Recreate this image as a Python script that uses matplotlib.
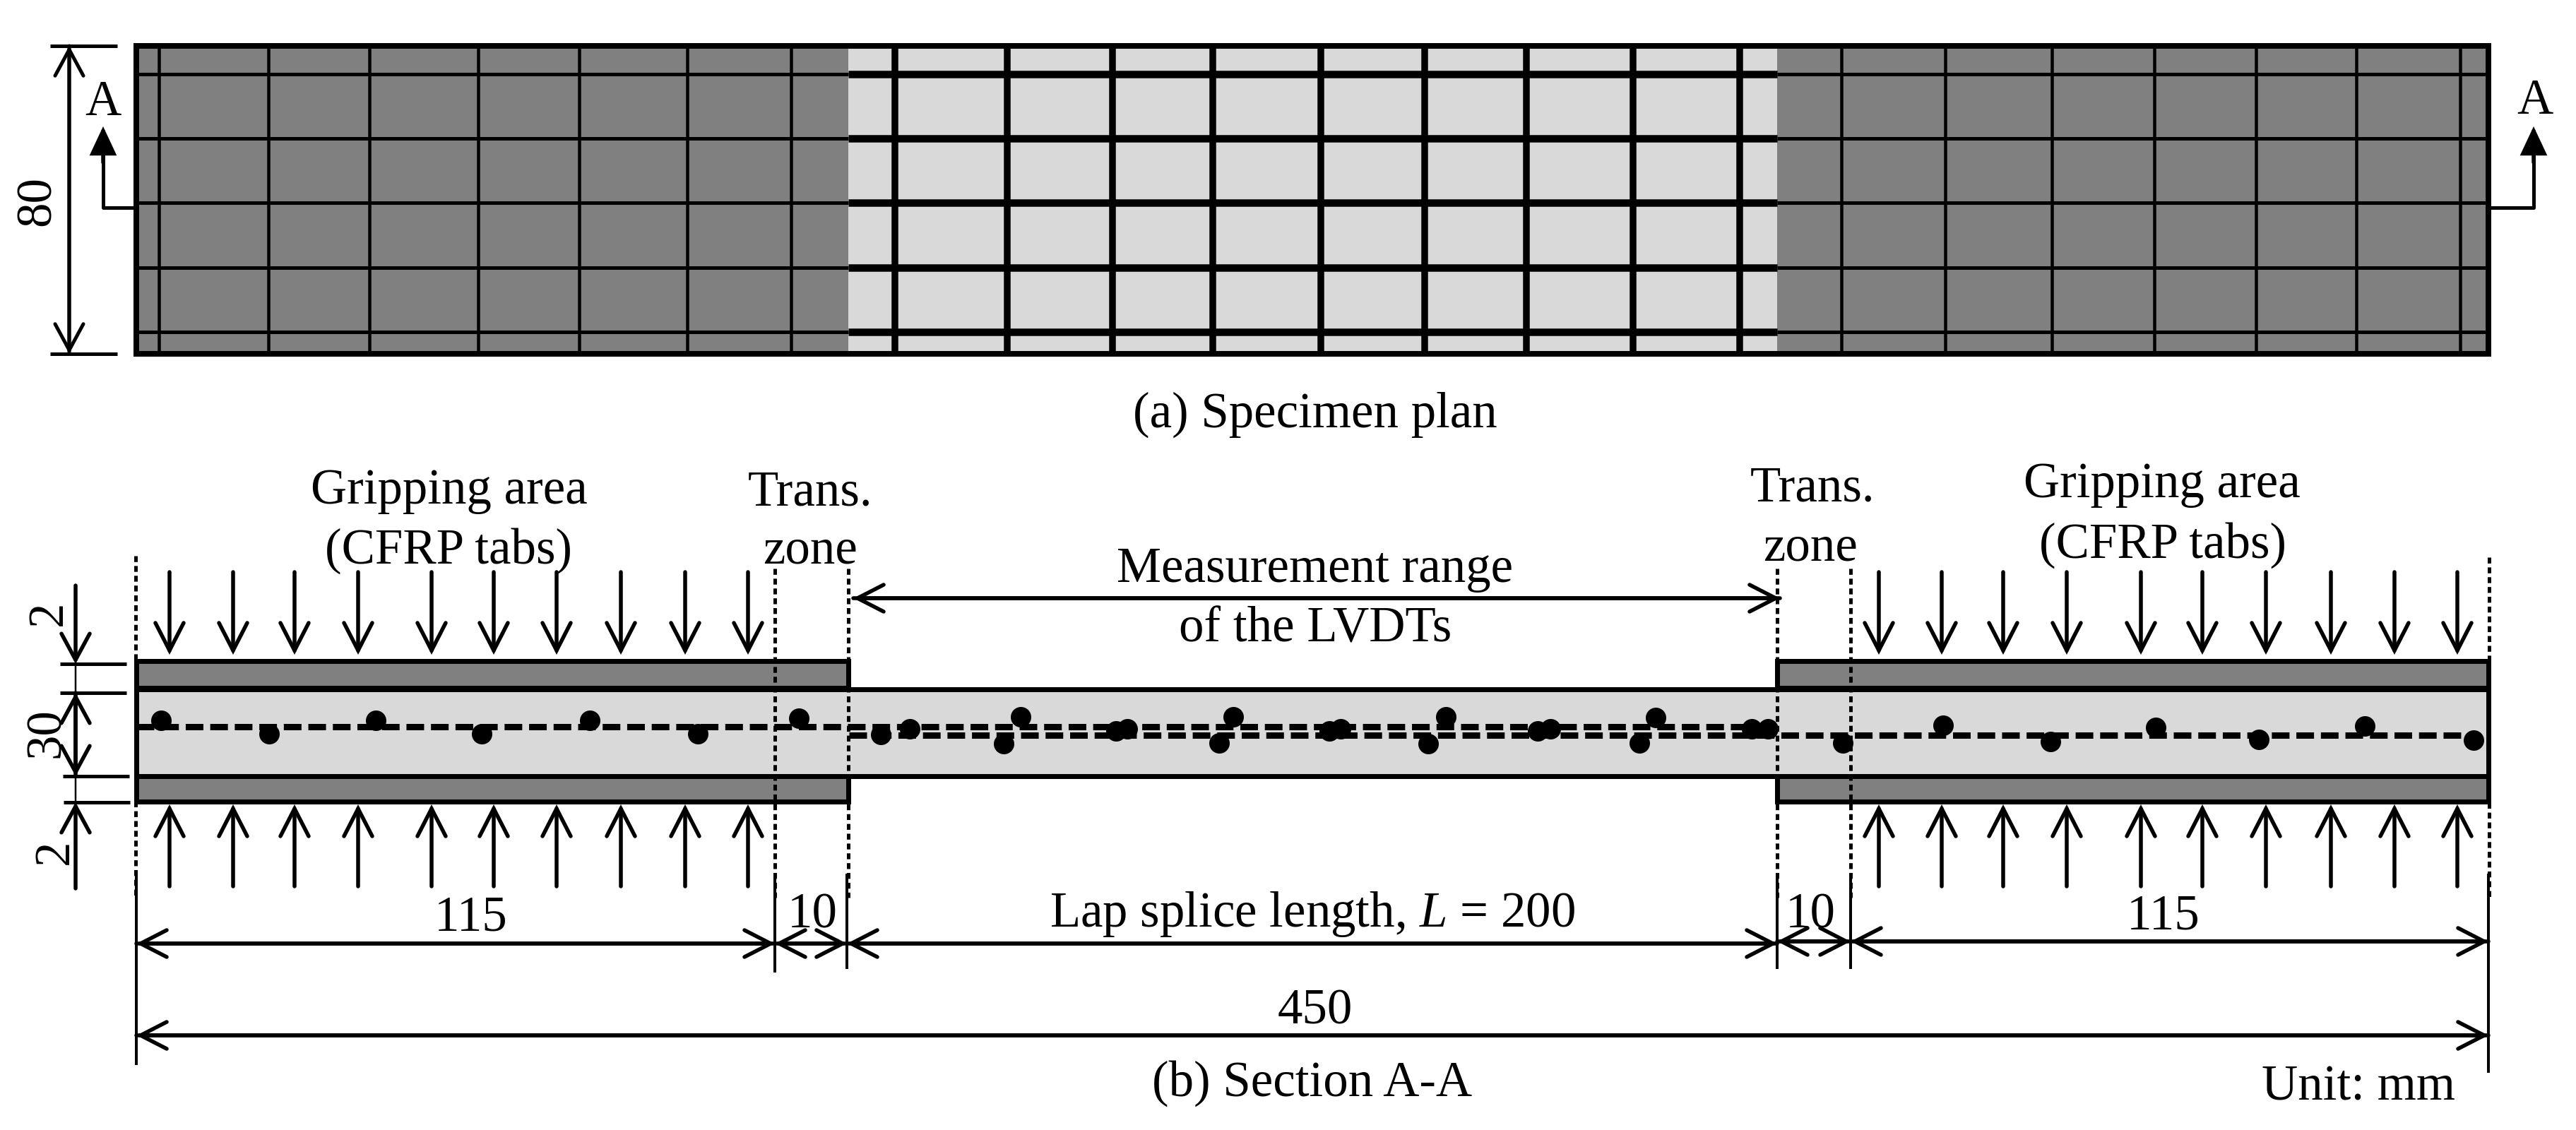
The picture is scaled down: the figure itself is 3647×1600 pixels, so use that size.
"""
Specimen plan and section A-A drawn in pixel coordinates of the 3648x1600 image
"""
import matplotlib
matplotlib.use("Agg")
import matplotlib.pyplot as plt

plt.rcParams['font.family'] = ['Liberation Serif', 'DejaVu Serif']
plt.rcParams['mathtext.fontset'] = 'custom'
plt.rcParams['mathtext.rm'] = 'Liberation Serif'
plt.rcParams['mathtext.it'] = 'Liberation Serif:italic'
plt.rcParams['lines.scale_dashes'] = False

GRIS = '#808080'
CLARO = '#D9D9D9'
PX = 0.72  # px -> pt at dpi 100

# plan
plan_x = [193, 1201, 2516, 3523]
plan_y = [65, 501]
malla_y = [105, 196, 287, 379, 470]
malla_izq = [225, 380, 523, 677, 820, 973, 1120]
malla_centro = [1267, 1426, 1575, 1717, 1870, 2017, 2161, 2312, 2463]
malla_der = [2607, 2754, 2905, 3050, 3194, 3336, 3483]
corte_y = 294
corte_x = [146, 3587]
corte_punta = 179

# section
tab_sup = [936, 974]
nucleo = [976, 1099]
tab_inf = [1099, 1135]
cargas_izq = [240, 330, 417, 507, 611, 699, 788, 879, 970, 1059]
cargas_der = [2660, 2749, 2836, 2926, 3031, 3118, 3208, 3300, 3390, 3479]
lineas_punteadas = [192, 1097, 1201, 2516, 2620, 3524]
punteadas_sup = [787, 805, 805, 805, 805, 789]
cotas_x = [193, 1097, 1199, 2516, 2620, 3523]
cotas_sup = [1234, 1240, 1237, 1237, 1237, 1237]
cotas_inf = [1508, 1377, 1372, 1372, 1372, 1519]

puntos_x = [228, 381, 532, 682, 835, 988, 1131, 1247, 1288, 1421, 1445, 1580, 1596,
            1726, 1746, 1882, 1898, 2022, 2047, 2177, 2195, 2321, 2344, 2480, 2503,
            2609, 2751, 2903, 3052, 3198, 3348, 3502]
puntos_y = [1020, 1039, 1020, 1039, 1020, 1039, 1017, 1040, 1032, 1053, 1015, 1035, 1032,
            1052, 1015, 1035, 1032, 1053, 1015, 1035, 1032, 1052, 1016, 1032, 1032,
            1052, 1027, 1050, 1030, 1047, 1028, 1048]

textos = [
    ("A", 146, 163), ("A", 3589, 161),
    ("(a) Specimen plan", 1862, 605),
    ("Gripping area", 636, 713), ("(CFRP tabs)", 635, 798),
    ("Trans.", 1147, 715), ("zone", 1147, 798),
    ("Measurement range", 1862, 824), ("of the LVDTs", 1862, 909),
    ("Trans.", 2566, 710), ("zone", 2563, 794),
    ("Gripping area", 3061, 704), ("(CFRP tabs)", 3062, 790),
    ("115", 667, 1318), ("10", 1150, 1314),
    ("Lap splice length, $L$ = 200", 1858, 1312),
    ("10", 2563, 1314), ("115", 3063, 1315),
    ("450", 1862, 1449), ("(b) Section A-A", 1858, 1552),
    ("Unit: mm", 3339, 1558),
]
textos_rot = [("80", 53, 285), ("2", 69, 868), ("30", 66, 1038), ("2", 78, 1206)]

fig = plt.figure(figsize=(36.48, 16), dpi=100)
ax = fig.add_axes([0, 0, 1, 1])
ax.set_xlim(0, 3648)
ax.set_ylim(1600, 0)
ax.axis('off')


def linea(xs, ys, ancho, **kw):
    kw.setdefault('solid_capstyle', 'butt')
    kw.setdefault('color', 'k')
    ax.plot(xs, ys, lw=ancho * PX, **kw)


def relleno(x0, x1, y0, y1, color, borde=0):
    ax.fill([x0, x1, x1, x0], [y0, y0, y1, y1], facecolor=color,
            edgecolor='k' if borde else 'none', lw=borde * PX, joinstyle='miter')


def flecha(x0, y0, x1, y1, largo=37, medio=20, ancho=5.5, estilo='->'):
    ax.annotate('', xy=(x1, y1), xytext=(x0, y0),
                arrowprops=dict(arrowstyle=f'{estilo},head_length={largo * PX},head_width={medio * PX}',
                                lw=ancho * PX, color='k', shrinkA=0, shrinkB=0,
                                mutation_scale=1, joinstyle='miter'))


# ---- (a) plan ----
relleno(plan_x[0], plan_x[1], plan_y[0], plan_y[1], GRIS)
relleno(plan_x[1], plan_x[2], plan_y[0], plan_y[1], CLARO)
relleno(plan_x[2], plan_x[3], plan_y[0], plan_y[1], GRIS)

for y in malla_y:
    linea([plan_x[0], plan_x[1]], [y, y], 5)
    linea([plan_x[1], plan_x[2]], [y, y], 10.5)
    linea([plan_x[2], plan_x[3]], [y, y], 5)
for x in malla_izq + malla_der:
    linea([x, x], plan_y, 4.5)
for x in malla_centro:
    linea([x, x], plan_y, 9.5)
relleno(plan_x[0], plan_x[3], plan_y[0], plan_y[1], 'none', borde=8)

# dimension 80 and section marks
linea([71, 166], [plan_y[0], plan_y[0]], 5)
linea([71, 166], [plan_y[1], plan_y[1]], 5)
flecha(98, plan_y[1], 98, plan_y[0], ancho=5)
flecha(98, plan_y[0], 98, plan_y[1], ancho=5)
for x, borde in zip(corte_x, [plan_x[0], plan_x[3]]):
    linea([borde, x, x], [corte_y, corte_y, 210], 5)
    flecha(x, 230, x, corte_punta, largo=32, medio=15, estilo='-|>')

# ---- (b) section ----
relleno(plan_x[0], plan_x[3], nucleo[0], nucleo[1], CLARO)
for x0, x1 in [(plan_x[0], plan_x[1]), (plan_x[2], plan_x[3])]:
    relleno(x0, x1, tab_sup[0], tab_sup[1], GRIS, borde=7)
    relleno(x0, x1, tab_inf[0], tab_inf[1], GRIS, borde=7)
relleno(plan_x[0], plan_x[3], nucleo[0], nucleo[1], 'none', borde=7)

# adhesive lines and studs
linea([193, 2516], [1029, 1029], 9, linestyle=(0, (18, 7)), dash_capstyle='butt')
linea([1202, 3510], [1041, 1041], 9, linestyle=(0, (18, 7)), dash_capstyle='butt')
ax.plot(puntos_x, puntos_y, 'o', color='k', ms=29 * PX, mew=0, zorder=3)

# dotted and solid extension lines
for x, y0 in zip(lineas_punteadas, punteadas_sup):
    linea([x, x], [y0, 1271], 5, linestyle=(0, (6, 4)), dash_capstyle='butt', zorder=4)
for x, y0, y1 in zip(cotas_x, cotas_sup, cotas_inf):
    linea([x, x], [y0, y1], 4)

# clamping loads
for x in cargas_izq + cargas_der:
    flecha(x, 810, x, 927, largo=39, medio=20)
    flecha(x, 1255, x, 1139, largo=39, medio=20)

# dimensions along the specimen
for x0, x1, y in [(193, 1097, 1336), (1097, 1199, 1336), (1199, 2516, 1336),
                  (2516, 2620, 1333), (2620, 3523, 1333)]:
    flecha(x0, y, x1, y, medio=19)
    flecha(x1, y, x0, y, medio=19)
flecha(193, 1466, 3523, 1466, medio=19)
flecha(3523, 1466, 193, 1466, medio=19)
flecha(1208, 847, 2520, 847, medio=19)
flecha(2520, 847, 1208, 847, medio=19)

# thickness dimensions on the left
for x0, x1, y in [(85, 179, 940), (85, 179, 981), (89, 183, 1099), (90, 184, 1136)]:
    linea([x0, x1], [y, y], 5)
linea([107, 107], [940, 981], 2.5)
linea([107, 107], [1099, 1136], 2.5)
flecha(107, 829, 107, 940, medio=20)
flecha(107, 1099, 107, 981, medio=20)
flecha(107, 981, 107, 1099, medio=20)
flecha(107, 1258, 107, 1136, medio=20)

for txt, x, y in textos:
    ax.text(x, y, txt, ha='center', va='baseline', fontsize=51, color='k')
for txt, x, y in textos_rot:
    ax.text(x, y, txt, ha='center', va='center', rotation=90, fontsize=51, color='k')

fig.savefig('out.png', dpi=100, facecolor='white')
